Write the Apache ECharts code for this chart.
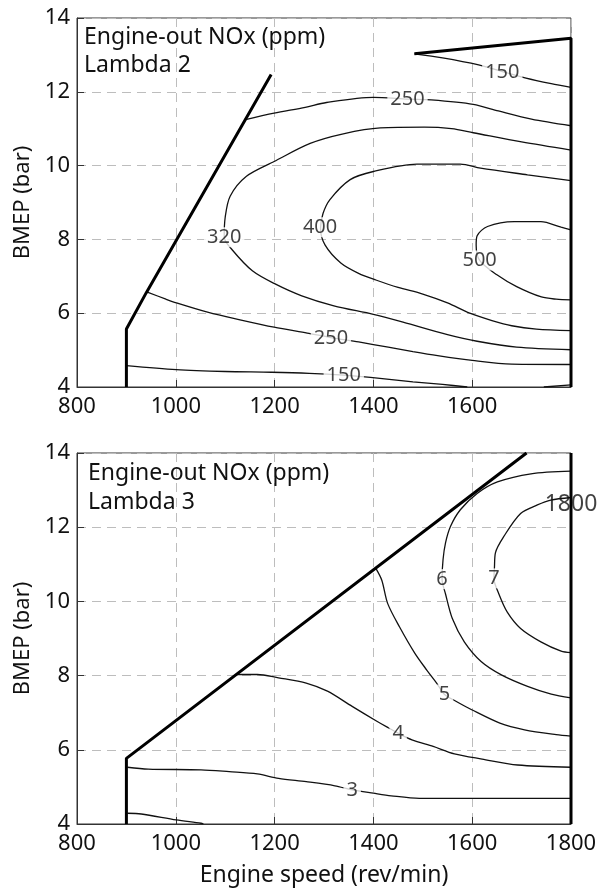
<!DOCTYPE html>
<html>
<head>
<meta charset="utf-8">
<script src="https://cdn.jsdelivr.net/npm/echarts@6/dist/echarts.min.js"></script>
<style>
html,body{margin:0;padding:0;background:#fff}
#chart{width:613px;height:893px}
</style>
</head>
<body>
<div id="chart"></div>
<script>
// axis ranges
var rpmMin = 800, rpmMax = 1800, rpmStep = 200;
var bmepMin = 4, bmepMax = 14, bmepStep = 2;

// ---- Lambda 2 (top) ----
var l2Bound = [[900,4],[900,5.57],[940,6.55],[1193,12.47]];
var l2BoundTop = [[1483,13.03],[1800,13.45],[1800,4]];
var l2_150a = [[1483,13.03],[1540,12.92],[1613,12.73],[1661,12.55],[1709,12.37],[1760,12.22],[1800,12.12]];
var l2_250a = [[1139,11.24],[1199,11.42],[1262,11.58],[1305,11.71],[1400,11.85],[1470,11.8],[1517,11.78],[1602,11.66],[1653,11.48],[1720,11.26],[1800,11.08]];
var l2_320 = [[1800,10.42],[1700,10.64],[1602,10.89],[1558,11.0],[1503,11.04],[1414,11.02],[1339,10.86],[1272,10.6],[1199,10.11],[1143,9.71],[1110,9.17],[1100,8.6],[1098,8.06],
              [1114,7.72],[1155,7.15],[1200,6.8],[1255,6.47],[1320,6.2],[1400,5.97],[1460,5.76],[1550,5.42],[1610,5.24],[1690,5.08],[1800,5.01]];
var l2_400 = [[1800,9.59],[1712,9.75],[1617,9.93],[1576,10.04],[1488,10.04],[1400,9.84],[1353,9.62],[1312,9.08],[1298,8.7],[1293,8.3],
              [1302,7.85],[1334,7.36],[1370,7.08],[1405,6.9],[1450,6.7],[1500,6.52],[1550,6.28],[1595,6.0],[1640,5.8],[1680,5.66],[1730,5.57],[1800,5.53]];
var l2_500 = [[1800,8.26],[1780,8.33],[1739,8.48],[1685,8.48],[1631,8.35],[1610,8.1],[1608,7.85],[1615,7.43],[1650,7.04],[1690,6.72],[1740,6.44],[1770,6.38],[1800,6.36]];
var l2_250b = [[941,6.58],[980,6.38],[1001,6.28],[1066,6.02],[1130,5.82],[1199,5.62],[1266,5.46],[1314,5.34],[1370,5.22],[1430,5.08],[1480,4.96],[1530,4.85],[1600,4.72],[1680,4.62],[1800,4.61]];
var l2_150b = [[900,4.58],[1001,4.47],[1100,4.42],[1194,4.4],[1270,4.37],[1340,4.32],[1394,4.26],[1480,4.14],[1540,4.07],[1590,4.0]];
var l2_150c = [[1745,4.0],[1800,4.06]];
var l2Labels = [[1661,12.54,'150'],[1469,11.8,'250'],[1098,8.06,'320'],[1292,8.33,'400'],[1615,7.43,'500'],[1314,5.33,'250'],[1340,4.32,'150']];

// ---- Lambda 3 (bottom) ----
var l3Bound = [[900,4],[900,5.77],[1710,14]];
var l3BoundRight = [[1800,14],[1800,4]];
var l3_7 = [[1800,12.8],[1759,12.73],[1732,12.6],[1698,12.37],[1664,11.75],[1647,11.31],[1645,10.9],[1644,10.62],[1654,10.2],[1671,9.71],[1698,9.27],[1739,8.91],[1780,8.66],[1800,8.62]];
var l3_6 = [[1800,13.51],[1719,13.44],[1651,13.22],[1610,12.91],[1576,12.47],[1556,12.02],[1546,11.58],[1541,11.13],[1539,10.6],[1546,10.2],[1560,9.53],[1584,8.91],[1618,8.38],[1659,8.02],[1712,7.71],[1760,7.5],[1800,7.4]];
var l3_5 = [[1405,10.89],[1417,10.57],[1429,9.94],[1453,9.31],[1484,8.6],[1508,8.15],[1528,7.8],[1544,7.49],[1567,7.31],[1599,7.08],[1656,6.72],[1706,6.54],[1770,6.41],[1800,6.37]];
var l3_4 = [[1122,8.03],[1165,8.03],[1208,7.94],[1264,7.8],[1307,7.58],[1357,7.17],[1407,6.77],[1428,6.61],[1450,6.45],[1478,6.27],[1521,6.09],[1564,5.89],[1620,5.75],[1692,5.59],[1800,5.53]];
var l3_3 = [[902,5.53],[944,5.48],[1051,5.46],[1108,5.41],[1165,5.35],[1208,5.23],[1264,5.14],[1322,5.03],[1357,4.92],[1400,4.83],[1436,4.76],[1493,4.69],[1800,4.69]];
var l3_2 = [[902,4.29],[930,4.27],[1001,4.11],[1051,4.02],[1056,4.0]];
var l3Labels = [[1357,4.92,'3'],[1450,6.45,'4'],[1544,7.49,'5'],[1539,10.6,'6'],[1644,10.62,'7']];
var l3Note = [[1800,12.6,'1800']];

var font = 'Noto Sans';
var ink = '#111';

var chart = echarts.init(document.getElementById('chart'));

function contour(d, g){
	return {type:'line', xAxisIndex:g, yAxisIndex:g, data:d, symbol:'none', smooth:0.3, silent:true,
		lineStyle:{color:ink, width:1.3}, z:3};
}
function bound(d, g){
	return {type:'line', xAxisIndex:g, yAxisIndex:g, data:d, symbol:'none', silent:true,
		lineStyle:{color:'#000', width:3}, z:4};
}
function labels(d, g, bg, size){
	return {type:'scatter', xAxisIndex:g, yAxisIndex:g, data:d, symbolSize:1, silent:true,
		itemStyle:{color:'rgba(0,0,0,0)'}, z:6,
		label:{show:true, position:'inside', formatter:function(p){return p.value[2];},
			color:ink, fontSize:size, fontFamily:font, backgroundColor:bg, padding:[0,3]}};
}
function xAx(i){
	return {gridIndex:i, type:'value', min:rpmMin, max:rpmMax, interval:rpmStep,
		axisLine:{show:true, lineStyle:{color:'#333', width:1}},
		axisTick:{show:true, inside:true, length:7, lineStyle:{color:'#333'}},
		axisLabel:{fontSize:22, color:ink, fontFamily:font, margin:9,
			formatter:function(v){ return (i==0 && v==1800) ? '' : v; }},
		splitLine:{show:true, lineStyle:{type:[9,6], color:'#bdbdbd', width:1}},
		name: i==1 ? 'Engine speed (rev/min)' : '', nameLocation:'middle', nameGap:40,
		nameTextStyle:{fontSize:23, color:ink, fontFamily:font}};
}
function yAx(i){
	return {gridIndex:i, type:'value', min:bmepMin, max:bmepMax, interval:bmepStep,
		axisLine:{show:true, lineStyle:{color:'#333', width:1}},
		axisTick:{show:true, inside:true, length:7, lineStyle:{color:'#333'}},
		axisLabel:{fontSize:22, color:ink, fontFamily:font, margin:7},
		splitLine:{show:true, lineStyle:{type:[9,6], color:'#bdbdbd', width:1}},
		name:'BMEP (bar)', nameLocation:'middle', nameGap:32,
		nameTextStyle:{fontSize:22, color:ink, fontFamily:font}};
}

var series = [];
[l2_150a,l2_250a,l2_320,l2_400,l2_500,l2_250b,l2_150b,l2_150c].forEach(function(d){ series.push(contour(d,0)); });
series.push(bound(l2Bound,0), bound(l2BoundTop,0), labels(l2Labels,0,'#fff',20));
[l3_7,l3_6,l3_5,l3_4,l3_3,l3_2].forEach(function(d){ series.push(contour(d,1)); });
series.push(bound(l3Bound,1), bound(l3BoundRight,1), labels(l3Labels,1,'#fff',20), labels(l3Note,1,null,23));

function note(x, y, t){
	return {type:'text', x:x, y:y, z:10, style:{text:t, fontSize:23, fontFamily:font, fill:ink, verticalAlign:'middle'}};
}

chart.setOption({
	animation:false,
	grid:[
		{left:77, top:18, width:494, height:369, show:true, borderColor:'#333', borderWidth:1, outerBoundsMode:'none'},
		{left:77, top:453, width:494, height:371, show:true, borderColor:'#333', borderWidth:1, outerBoundsMode:'none'}
	],
	xAxis:[xAx(0), xAx(1)],
	yAxis:[yAx(0), yAx(1)],
	graphic:[
		note(84, 37, 'Engine-out NOx (ppm)'), note(84, 65, 'Lambda 2'),
		note(88, 473, 'Engine-out NOx (ppm)'), note(88, 502, 'Lambda 3')
	],
	series:series
});
</script>
</body>
</html>
